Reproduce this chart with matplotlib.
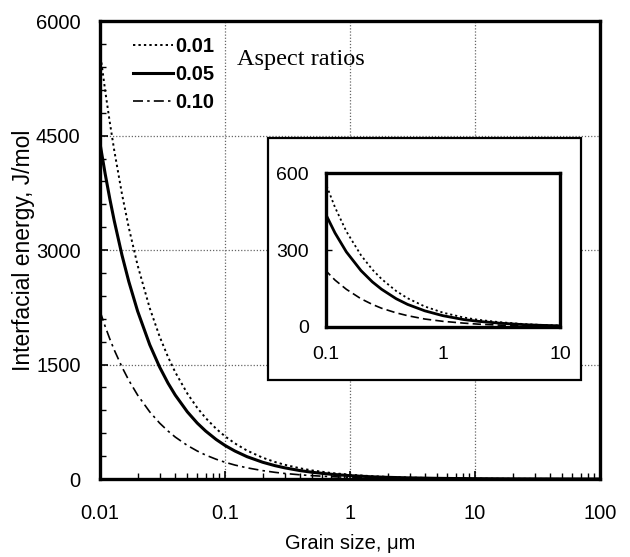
import matplotlib
matplotlib.use("Agg")
import matplotlib.pyplot as plt
from matplotlib.patches import Rectangle
from matplotlib.ticker import FixedLocator, NullFormatter, LogLocator

plt.rcParams['font.family'] = ['Liberation Sans', 'DejaVu Sans']

grain_size = [0.01, 0.011, 0.012, 0.013, 0.015, 0.017, 0.02, 0.025, 0.03, 0.035, 0.04,
              0.05, 0.06, 0.07, 0.085, 0.1, 0.12, 0.15, 0.2, 0.25, 0.3, 0.4, 0.5,
              0.7, 1, 1.5, 2, 3, 5, 7, 10, 20, 50, 100]
energy_001 = [5600, 5091, 4667, 4308, 3733, 3294, 2800, 2240, 1867, 1600, 1400,
              1120, 933, 800, 659, 560, 467, 373, 280, 224, 187, 140, 112,
              80, 56, 37, 28, 19, 11, 8, 5.6, 2.8, 1.1, 0.6]
energy_005 = [4400, 4000, 3667, 3385, 2933, 2588, 2200, 1760, 1467, 1257, 1100,
              880, 733, 629, 518, 440, 367, 293, 220, 176, 147, 110, 88,
              63, 44, 29, 22, 15, 8.8, 6.3, 4.4, 2.2, 0.9, 0.4]
energy_010 = [2200, 2000, 1833, 1692, 1467, 1294, 1100, 880, 733, 629, 550,
              440, 367, 314, 259, 220, 183, 147, 110, 88, 73, 55, 44,
              31, 22, 15, 11, 7.3, 4.4, 3.1, 2.2, 1.1, 0.4, 0.2]
labels = ['0.01', '0.05', '0.10']
main_xticks = [0.01, 0.1, 1, 10, 100]
main_xticklabels = ['0.01', '0.1', '1', '10', '100']
main_yticks = [0, 1500, 3000, 4500, 6000]
inset_xticks = [0.1, 1, 10]
inset_xticklabels = ['0.1', '1', '10']
inset_yticks = [0, 300, 600]

fig = plt.figure(figsize=(6.3, 5.57), dpi=100)
ax = fig.add_axes([0.1587, 0.140, 0.7937, 0.822])

dot_style = (0, (1.2, 1.6))
dashdot_style = (0, (6, 2.5, 1.5, 2.5))
ax.plot(grain_size, energy_001, color='black', lw=1.4, linestyle=dot_style, label=labels[0])
ax.plot(grain_size, energy_005, color='black', lw=2.2, linestyle='-', label=labels[1])
ax.plot(grain_size, energy_010, color='black', lw=1.2, linestyle=dashdot_style, label=labels[2])

ax.set_xscale('log')
ax.set_xlim(0.01, 100)
ax.set_ylim(0, 6000)
ax.set_xticks(main_xticks)
ax.set_xticklabels(main_xticklabels)
ax.set_yticks(main_yticks)
ax.yaxis.set_minor_locator(FixedLocator(list(range(0, 6001, 300))))
ax.xaxis.set_minor_locator(LogLocator(base=10, subs=range(2, 10)))
ax.xaxis.set_minor_formatter(NullFormatter())
ax.tick_params(axis='both', which='major', direction='in', length=6, width=1.2,
               labelsize=14.5, top=False, right=False)
ax.tick_params(axis='y', which='major', pad=14)
ax.tick_params(axis='x', which='major', pad=18)
ax.tick_params(axis='both', which='minor', direction='in', length=4, width=1.0,
               top=False, right=False)
ax.grid(True, which='major', linestyle=(0, (1, 1.5)), color='#666666', lw=0.9)
for s in ax.spines.values():
    s.set_linewidth(2.4)

ax.set_xlabel('Grain size, \u03bcm', fontsize=14.5, labelpad=8)
ax.set_ylabel('Interfacial energy, J/mol', fontsize=16.5, labelpad=1)

leg = ax.legend(loc='upper left', bbox_to_anchor=(0.03, 1.005), frameon=False,
                handlelength=2.0, handletextpad=0.1, labelspacing=0.45,
                prop={'size': 14.5, 'weight': 'bold'}, markerfirst=True)
ax.text(0.274, 0.917, 'Aspect ratios', transform=ax.transAxes,
        fontsize=17.5, family=['Liberation Serif', 'DejaVu Serif'], va='center')

# inset frame
frame = Rectangle((0.425, 0.318), 0.497, 0.434, transform=fig.transFigure,
                  facecolor='white', edgecolor='black', lw=1.6, zorder=3)
fig.patches.append(frame)

ins = fig.add_axes([0.517, 0.413, 0.372, 0.276], zorder=4)
ins.plot(grain_size, energy_001, color='black', lw=1.3, linestyle=dot_style)
ins.plot(grain_size, energy_005, color='black', lw=2.0, linestyle='-')
ins.plot(grain_size, energy_010, color='black', lw=1.2, linestyle=(0, (5, 2.5)))
ins.set_xscale('log')
ins.set_xlim(0.1, 10)
ins.set_ylim(0, 600)
ins.set_xticks(inset_xticks)
ins.set_xticklabels(inset_xticklabels)
ins.set_yticks(inset_yticks)
ins.xaxis.set_minor_locator(FixedLocator([]))
ins.tick_params(axis='both', which='major', direction='in', length=4, width=1.0,
                labelsize=14, pad=12)
ins.tick_params(axis='x', length=0, pad=14)
for s in ins.spines.values():
    s.set_linewidth(2.4)

fig.savefig('out.png', dpi=100)
